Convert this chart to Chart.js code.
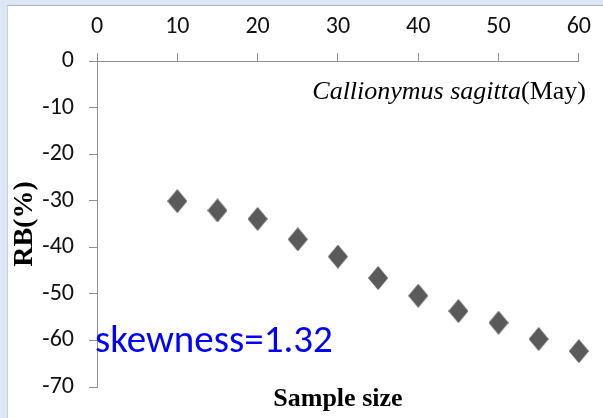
<!DOCTYPE html>
<html>
<head>
<meta charset="utf-8">
<script src="https://cdn.jsdelivr.net/npm/chart.js@4/dist/chart.umd.min.js"></script>
<style>
    html, body {
        margin: 0;
        padding: 0;
        width: 603px;
        height: 418px;
        overflow: hidden;
        background: #dde7f3;
    }
    #panel {
        position: absolute;
        left: 7px;
        top: 5px;
        right: 0;
        bottom: 0;
        background: #ffffff;
        border-top: 1px solid #aab4c0;
        border-left: 1px solid #c9d3de;
    }
    #wrap {
        position: absolute;
        left: 0;
        top: 0;
        width: 603px;
        height: 418px;
    }
</style>
</head>
<body>
<div id="panel"></div>
<div id="wrap"><canvas id="rbChart"></canvas></div>
<script>
// relative bias by sample size
const sampleSizes = [10, 15, 20, 25, 30, 35, 40, 45, 50, 55, 60];
const rbValues = [-30.1, -32.1, -33.9, -38.3, -42.0, -46.6, -50.4, -53.7, -56.2, -59.7, -62.3];

const speciesName = 'Callionymus sagitta';
const monthLabel = '(May)';
const skewnessLabel = 'skewness=1.32';

const axisColor = '#8f8f8f';
const tickFont = "Carlito, 'Liberation Sans Narrow', 'Liberation Sans', sans-serif";
const serifFont = "'Liberation Serif', 'DejaVu Serif', serif";

// taller-than-wide diamond marker
function makeDiamond(w, h, color) {
    const c = document.createElement('canvas');
    c.width = w;
    c.height = h;
    const g = c.getContext('2d');
    g.fillStyle = color;
    g.beginPath();
    g.moveTo(w / 2, 0);
    g.lineTo(w, h / 2);
    g.lineTo(w / 2, h);
    g.lineTo(0, h / 2);
    g.closePath();
    g.fill();
    return c;
}

const diamond = makeDiamond(20, 24, '#5a5a5a');

// species caption and skewness note
const notesPlugin = {
    id: 'notes',
    afterDraw(chart) {
        const ctx = chart.ctx;
        ctx.save();
        ctx.textBaseline = 'alphabetic';

        ctx.font = '26px ' + serifFont;
        const monthW = ctx.measureText(monthLabel).width;
        ctx.font = 'italic 26px ' + serifFont;
        const nameW = ctx.measureText(speciesName).width;
        const right = 586;
        ctx.fillStyle = '#000000';
        ctx.fillText(speciesName, right - monthW - nameW, 99);
        ctx.font = '26px ' + serifFont;
        ctx.fillText(monthLabel, right - monthW, 99);

        ctx.font = '39px ' + tickFont;
        ctx.fillStyle = '#0000ff';
        ctx.fillText(skewnessLabel, 95, 352);
        ctx.restore();
    }
};

const ctx = document.getElementById('rbChart').getContext('2d');
const rbChart = new Chart(ctx, {
    type: 'scatter',
    data: {
        datasets: [{
            label: 'RB',
            data: sampleSizes.map((n, i) => ({ x: n, y: rbValues[i] })),
            pointStyle: diamond,
            pointRadius: 10,
            pointHoverRadius: 10,
            backgroundColor: '#5a5a5a',
            borderColor: '#5a5a5a',
            clip: false
        }]
    },
    options: {
        responsive: true,
        maintainAspectRatio: false,
        animation: false,
        events: [],
        layout: {
            padding: { left: 0, top: 0, right: 20.5, bottom: 0 }
        },
        plugins: {
            legend: { display: false },
            tooltip: { enabled: false }
        },
        scales: {
            x: {
                type: 'linear',
                position: 'top',
                min: 0,
                max: 60,
                ticks: {
                    stepSize: 10,
                    padding: 12,
                    color: '#111111',
                    font: { family: tickFont, size: 24 }
                },
                grid: {
                    drawOnChartArea: false,
                    drawTicks: true,
                    tickLength: 8,
                    color: axisColor
                },
                border: { display: true, color: axisColor, width: 1 },
                afterFit: scale => { scale.height = 61; }
            },
            x2: {
                type: 'linear',
                position: 'bottom',
                min: 0,
                max: 60,
                ticks: { display: false },
                grid: { display: false, drawTicks: false },
                border: { display: false },
                title: {
                    display: true,
                    text: 'Sample size',
                    color: '#000000',
                    padding: { top: 0, bottom: 6 },
                    font: { family: serifFont, size: 26, weight: 'bold', lineHeight: 1 }
                },
                afterFit: scale => { scale.height = 31; }
            },
            y: {
                type: 'linear',
                position: 'left',
                min: -70,
                max: 0,
                ticks: {
                    stepSize: 10,
                    padding: 15,
                    color: '#111111',
                    font: { family: tickFont, size: 24 }
                },
                grid: {
                    drawOnChartArea: false,
                    drawTicks: true,
                    tickLength: 8,
                    color: axisColor
                },
                border: { display: true, color: axisColor, width: 1 },
                title: {
                    display: true,
                    text: 'RB(%)',
                    color: '#000000',
                    padding: { top: 11, bottom: 0 },
                    font: { family: serifFont, size: 28, weight: 'bold', lineHeight: 1 }
                },
                afterFit: scale => { scale.width = 97; }
            }
        }
    },
    plugins: [notesPlugin]
});
</script>
</body>
</html>
